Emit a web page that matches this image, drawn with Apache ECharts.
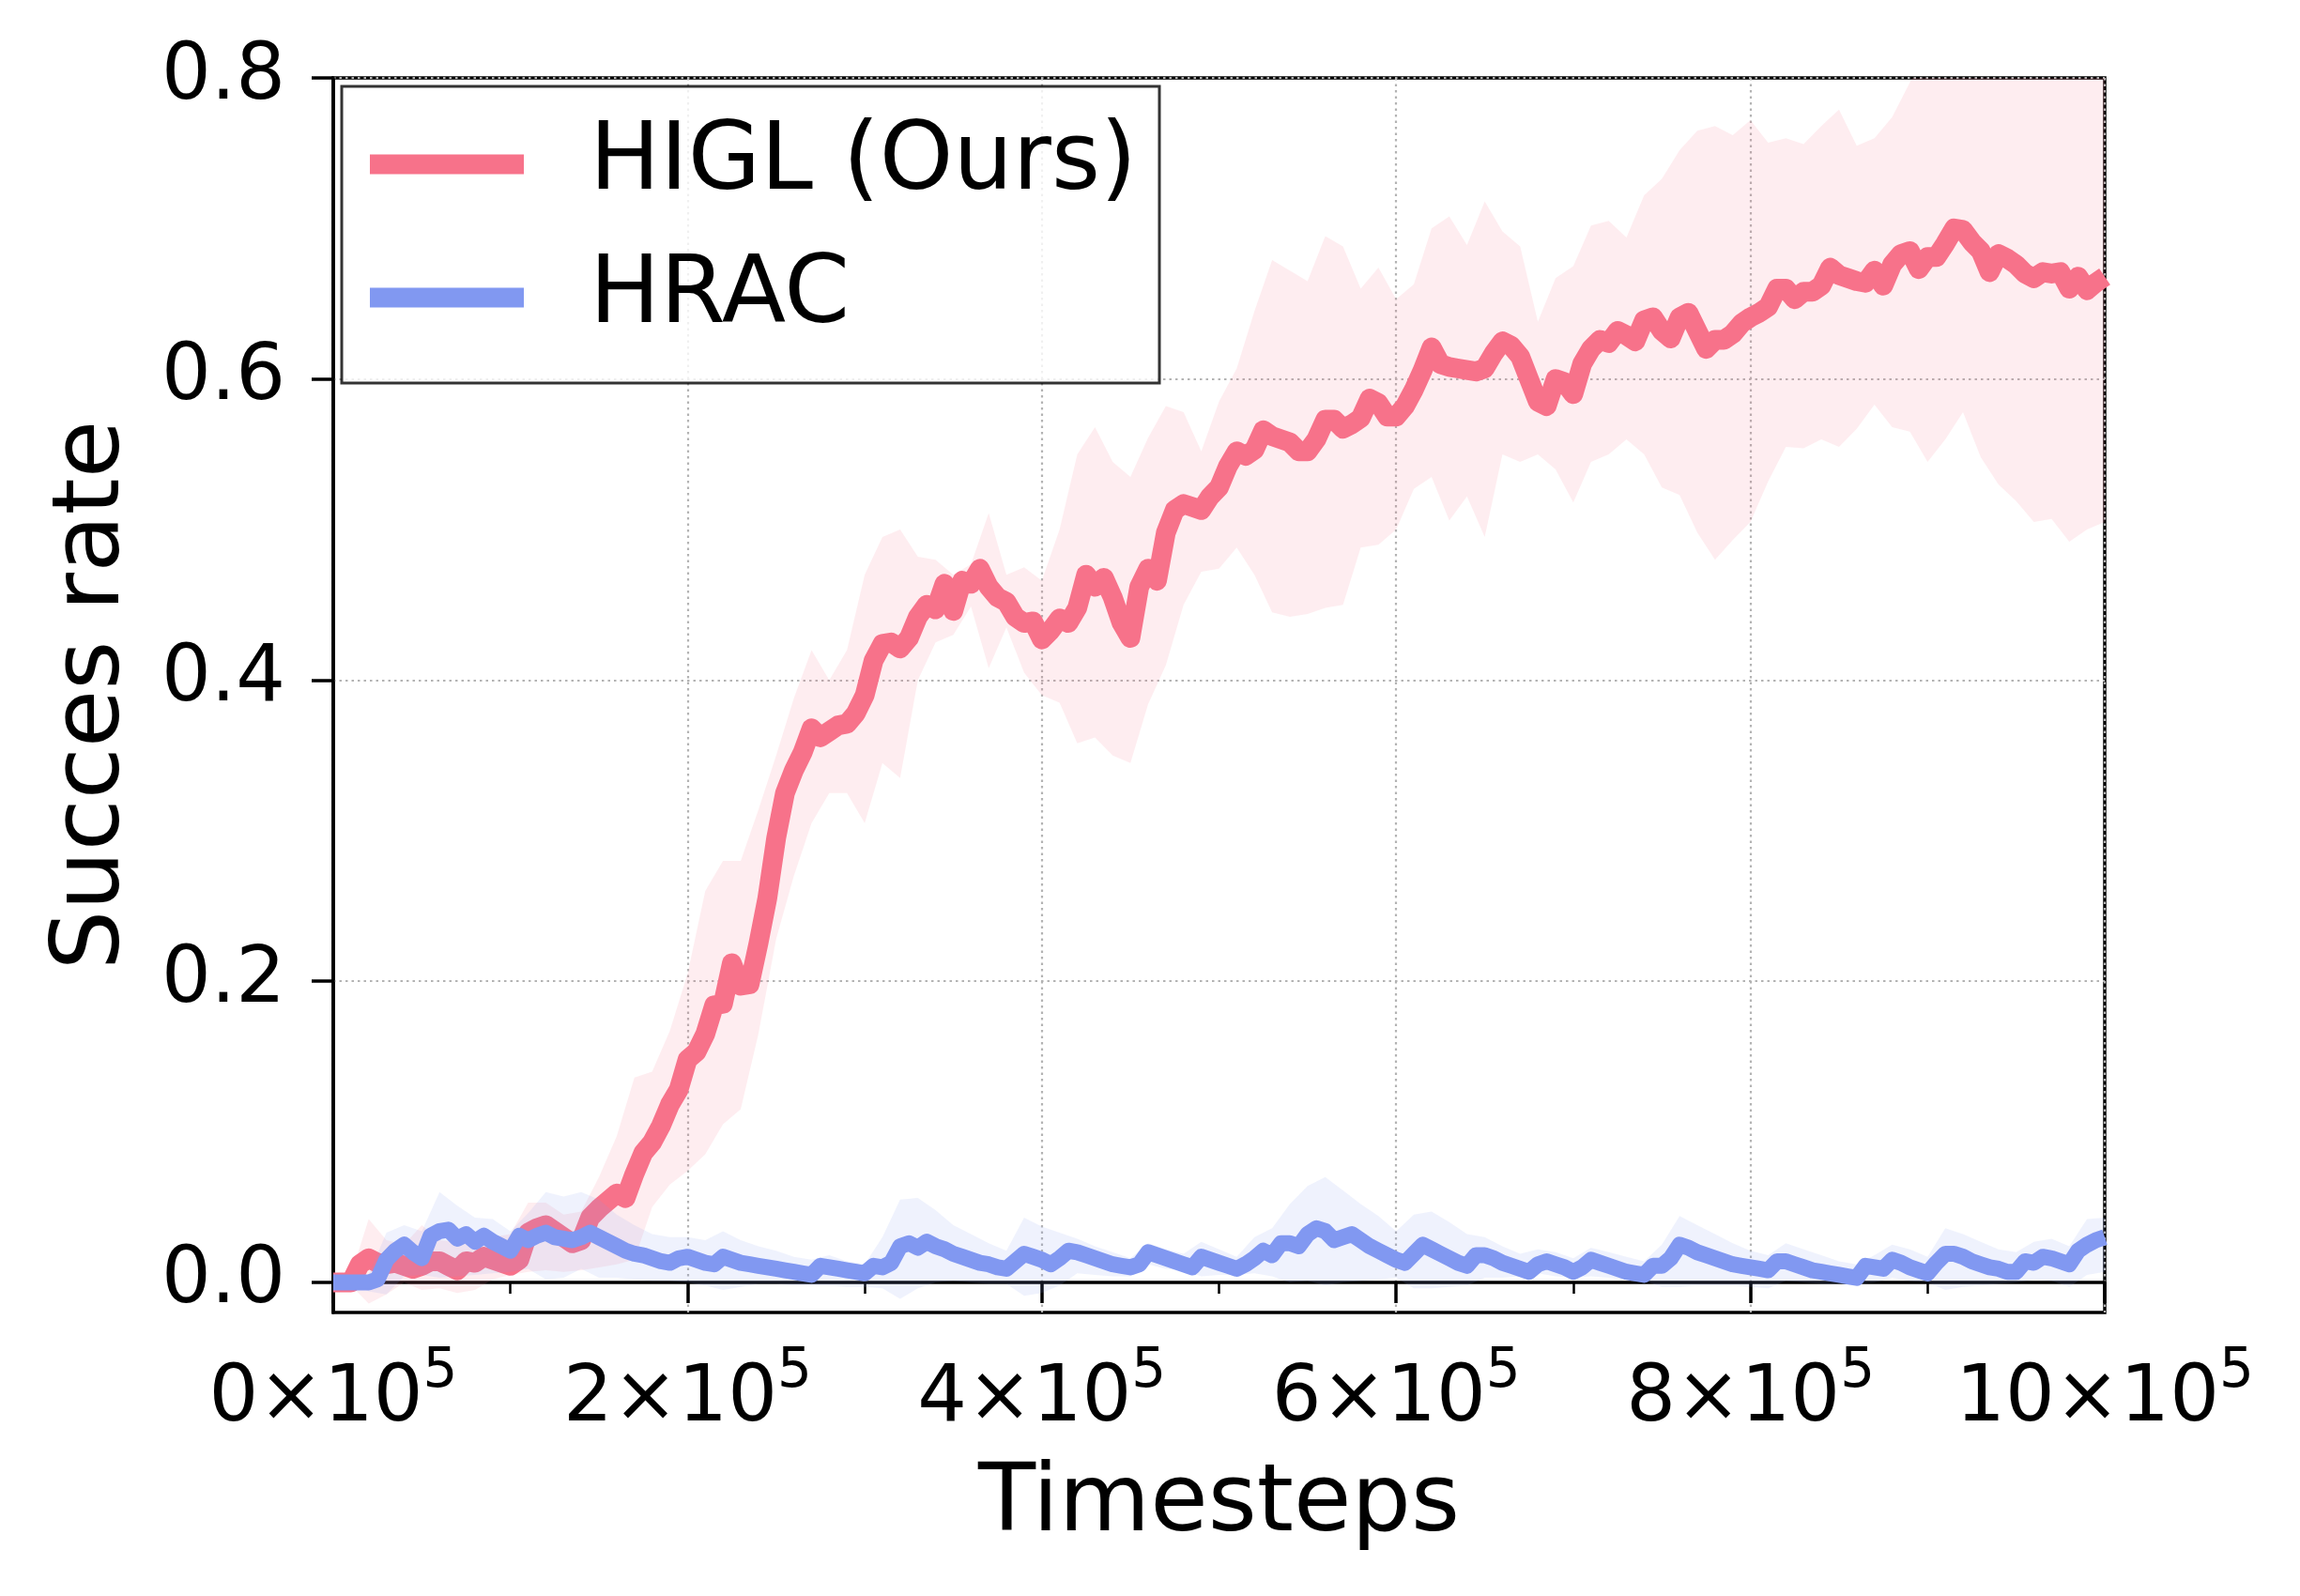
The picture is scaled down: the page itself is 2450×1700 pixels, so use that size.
<!DOCTYPE html>
<html><head><meta charset="utf-8">
<script src="https://cdn.jsdelivr.net/npm/echarts@6/dist/echarts.min.js"></script>
<style>html,body{margin:0;padding:0;background:#fff}#c{width:2450px;height:1700px}</style>
</head><body><div id="c"></div>
<script>
// x grid for mean curves (every 5k steps) and for the shaded bands (every 10k steps)
const meanSteps = Array.from({length: 201}, (_, i) => i * 5000);
const bandSteps = Array.from({length: 101}, (_, i) => i * 10000);

const xTickValues = [0, 200000, 400000, 600000, 800000, 1000000];
const yTickValues = [0, 0.2, 0.4, 0.6, 0.8];
const seriesNames = ['HIGL (Ours)', 'HRAC'];

const higlMean = [
  0,0,0,0.012,0.016,0.013,0.012,0.013,0.011,0.009, 0.011,0.014,0.014,0.011,0.008,0.014,0.013,0.017,0.015,0.013,
  0.011,0.015,0.033,0.036,0.038,0.034,0.030,0.026,0.028,0.043, 0.049,0.054,0.059,0.056,0.072,0.086,0.093,0.104,0.118,0.128,
  0.148,0.153,0.165,0.184,0.185,0.212,0.197,0.198,0.225,0.255, 0.295,0.325,0.340,0.352,0.368,0.362,0.366,0.370,0.371,0.378,
  0.390,0.413,0.424,0.425,0.421,0.428,0.442,0.450,0.447,0.464, 0.446,0.466,0.464,0.474,0.462,0.455,0.452,0.442,0.438,0.439,
  0.427,0.433,0.441,0.438,0.448,0.470,0.462,0.468,0.455,0.438, 0.428,0.462,0.474,0.466,0.498,0.513,0.517,0.515,0.513,0.522,
  0.528,0.542,0.552,0.549,0.553,0.566,0.562,0.560,0.558,0.552, 0.552,0.560,0.573,0.573,0.567,0.570,0.574,0.587,0.584,0.575,
  0.575,0.582,0.593,0.606,0.621,0.610,0.608,0.607,0.606,0.605, 0.607,0.617,0.625,0.622,0.615,0.600,0.585,0.582,0.600,0.598,
  0.590,0.610,0.620,0.626,0.624,0.632,0.629,0.625,0.639,0.641, 0.632,0.627,0.641,0.644,0.632,0.620,0.626,0.626,0.630,0.637,
  0.641,0.644,0.648,0.660,0.660,0.653,0.658,0.658,0.662,0.674, 0.669,0.667,0.665,0.664,0.672,0.662,0.676,0.683,0.685,0.673,
  0.681,0.681,0.690,0.700,0.699,0.691,0.685,0.671,0.683,0.680, 0.676,0.670,0.667,0.671,0.670,0.671,0.660,0.668,0.659,0.664,
  0.668
];

const hracMean = [
  0,0,0,0,0,0.002,0.015,0.021,0.025,0.020, 0.016,0.031,0.034,0.035,0.029,0.032,0.027,0.031,0.027,0.024,
  0.021,0.031,0.028,0.031,0.033,0.030,0.029,0.028,0.030,0.033, 0.030,0.027,0.024,0.021,0.019,0.018,0.016,0.014,0.013,0.016,
  0.017,0.015,0.013,0.012,0.017,0.015,0.013,0.012,0.011,0.010, 0.009,0.008,0.007,0.006,0.005,0.011,0.010,0.009,0.008,0.007,
  0.006,0.011,0.010,0.013,0.024,0.026,0.023,0.027,0.024,0.022, 0.019,0.017,0.015,0.013,0.012,0.010,0.009,0.014,0.019,0.017,
  0.015,0.012,0.016,0.021,0.020,0.018,0.016,0.014,0.012,0.011, 0.010,0.012,0.020,0.018,0.016,0.014,0.012,0.010,0.017,0.015,
  0.013,0.011,0.009,0.012,0.016,0.021,0.018,0.026,0.026,0.024, 0.032,0.036,0.034,0.028,0.030,0.032,0.028,0.024,0.021,0.018,
  0.015,0.013,0.019,0.025,0.022,0.019,0.016,0.013,0.011,0.018, 0.018,0.016,0.013,0.011,0.009,0.007,0.012,0.014,0.012,0.010,
  0.007,0.010,0.015,0.013,0.011,0.009,0.007,0.006,0.005,0.011, 0.011,0.016,0.025,0.023,0.020,0.018,0.016,0.014,0.012,0.011,
  0.010,0.009,0.008,0.014,0.014,0.012,0.010,0.008,0.007,0.006, 0.005,0.004,0.003,0.011,0.010,0.009,0.015,0.013,0.010,0.008,
  0.006,0.013,0.019,0.019,0.017,0.014,0.012,0.010,0.009,0.007, 0.007,0.014,0.013,0.017,0.016,0.014,0.012,0.021,0.025,0.028,
  0.030
];

const higlUpper = [
  0.000,0.005,0.042,0.028,0.025,0.038,0.028,0.027,0.030,0.030,
  0.032,0.053,0.053,0.045,0.047,0.070,0.097,0.136,0.140,0.167,
  0.205,0.260,0.280,0.280,0.314,0.350,0.388,0.420,0.400,0.420,
  0.470,0.495,0.500,0.482,0.480,0.470,0.477,0.511,0.470,0.475,
  0.466,0.500,0.550,0.568,0.545,0.535,0.561,0.582,0.578,0.552,
  0.585,0.607,0.645,0.679,0.672,0.665,0.695,0.688,0.660,0.674,
  0.653,0.663,0.700,0.708,0.689,0.718,0.698,0.688,0.638,0.667,
  0.675,0.702,0.705,0.694,0.722,0.733,0.752,0.765,0.768,0.762,
  0.772,0.757,0.760,0.756,0.768,0.779,0.755,0.760,0.774,0.797,
  0.820,0.840,0.860,0.870,0.880,0.880,0.870,0.880,0.860,0.870,0.870
];
const higlLower = [
  0.000,-0.002,-0.014,-0.008,0.000,-0.005,-0.004,-0.007,-0.005,0.002,
  0.005,0.007,0.008,0.007,0.008,0.010,0.012,0.015,0.050,0.065,
  0.074,0.085,0.105,0.115,0.165,0.228,0.270,0.305,0.325,0.325,
  0.305,0.345,0.335,0.400,0.425,0.430,0.449,0.408,0.435,0.405,
  0.390,0.385,0.358,0.362,0.350,0.345,0.384,0.410,0.450,0.472,
  0.474,0.488,0.470,0.445,0.442,0.444,0.448,0.450,0.488,0.490,
  0.500,0.527,0.535,0.506,0.522,0.495,0.550,0.545,0.550,0.540,
  0.518,0.545,0.550,0.560,0.550,0.528,0.523,0.498,0.480,0.493,
  0.505,0.532,0.555,0.554,0.560,0.555,0.567,0.583,0.568,0.565,
  0.545,0.560,0.578,0.548,0.530,0.519,0.505,0.507,0.492,0.500,0.505
];
const hracUpper = [
  0.000,0.000,0.005,0.033,0.038,0.034,0.060,0.051,0.043,0.042,
  0.034,0.046,0.060,0.057,0.060,0.055,0.045,0.038,0.032,0.030,
  0.030,0.028,0.034,0.028,0.024,0.021,0.017,0.015,0.018,0.014,
  0.012,0.030,0.055,0.056,0.048,0.038,0.032,0.026,0.021,0.043,
  0.037,0.033,0.029,0.024,0.020,0.016,0.026,0.022,0.019,0.027,
  0.022,0.017,0.030,0.036,0.052,0.064,0.070,0.061,0.052,0.044,
  0.034,0.045,0.047,0.040,0.032,0.030,0.024,0.019,0.022,0.020,
  0.016,0.023,0.020,0.017,0.014,0.025,0.044,0.038,0.032,0.026,
  0.021,0.018,0.026,0.022,0.018,0.014,0.012,0.018,0.025,0.022,
  0.017,0.036,0.032,0.027,0.022,0.020,0.027,0.029,0.024,0.042,0.043
];
const hracLower = [
  0.000,0.000,-0.006,-0.008,0.004,0.005,0.003,0.004,0.005,0.006,
  0.007,0.009,0.002,0.003,0.009,0.003,0.003,0.002,0.001,0.001,
  0.000,-0.002,-0.005,-0.003,-0.001,-0.001,-0.002,-0.002,-0.002,-0.003,
  -0.003,-0.004,-0.011,-0.004,0.000,0.001,0.000,-0.001,-0.001,-0.009,
  -0.007,-0.002,0.006,0.005,0.004,0.004,0.012,0.009,0.008,0.004,
  0.005,0.005,0.006,0.004,0.000,0.001,-0.002,0.000,0.001,0.002,
  0.003,-0.004,-0.004,-0.003,-0.002,0.003,0.003,0.004,0.006,0.004,
  0.003,0.004,0.003,0.002,0.001,-0.003,-0.003,-0.002,-0.002,-0.002,
  -0.003,-0.004,0.001,0.000,-0.001,-0.001,-0.001,0.000,0.003,0.001,
  0.000,-0.005,-0.003,-0.002,-0.001,0.000,0.002,0.001,-0.003,0.005,0.007
];

const RED = '#f7728a', BLUE = '#8198f1';
const FONT = 'DejaVu Sans';

function band(upper, lower, fill, z) {
  return {
    type: 'custom', coordinateSystem: 'cartesian2d', silent: true, clip: true, z: z,
    data: [[0, 0]],
    renderItem: function (params, api) {
      const pts = [];
      for (let i = 0; i < bandSteps.length; i++) pts.push(api.coord([bandSteps[i], upper[i]]));
      for (let i = bandSteps.length - 1; i >= 0; i--) pts.push(api.coord([bandSteps[i], lower[i]]));
      return { type: 'polygon', shape: { points: pts }, style: { fill: fill } };
    }
  };
}

const gridLine = { show: true, lineStyle: { color: '#b3b3b3', width: 2.2, type: [2.5, 4] } };

const chart = echarts.init(document.getElementById('c'), null, { renderer: 'canvas' });
chart.setOption({
  animation: false,
  backgroundColor: '#fff',
  grid: { left: 355, right: 208, top: 83, bottom: 302, show: true, borderColor: '#000', borderWidth: 3.5, backgroundColor: 'transparent' },
  xAxis: {
    type: 'value', min: 0, max: 1000000, interval: 200000,
    name: 'Timesteps', nameLocation: 'middle', nameGap: 156,
    nameTextStyle: { fontSize: 100, fontFamily: FONT, color: '#000', lineHeight: 100 },
    axisLine: { show: true, lineStyle: { color: '#000', width: 3.5 } },
    axisTick: { show: true, length: 22, lineStyle: { color: '#000', width: 3.5 } },
    minorTick: { show: true, splitNumber: 2, length: 12, lineStyle: { color: '#000', width: 2.5 } },
    splitLine: gridLine,
    axisLabel: {
      margin: 35, hideOverlap: false, showMinLabel: true, showMaxLabel: true,
      formatter: function (v) { return '{b|' + Math.round(v / 100000) + '×10}{s|5}'; },
      rich: {
        b: { fontSize: 83, fontFamily: FONT, color: '#000', lineHeight: 100, verticalAlign: 'bottom' },
        s: { fontSize: 58, fontFamily: FONT, color: '#000', lineHeight: 58, verticalAlign: 'top' }
      }
    }
  },
  yAxis: {
    type: 'value', min: -0.02, max: 0.8,
    name: 'Succes rate', nameLocation: 'middle', nameGap: 205, nameRotate: 90,
    nameTextStyle: { fontSize: 100, fontFamily: FONT, color: '#000', lineHeight: 100 },
    axisLine: { show: true, lineStyle: { color: '#000', width: 3.5 } },
    axisTick: { show: true, length: 23, customValues: yTickValues, lineStyle: { color: '#000', width: 3.5 } },
    splitLine: gridLine,
    axisLabel: {
      margin: 51, fontSize: 83, fontFamily: FONT, color: '#000', customValues: yTickValues,
      formatter: function (v) { return v.toFixed(1); }
    }
  },
  legend: {
    orient: 'vertical', left: 364, top: 92, padding: [22, 24, 30, 30],
    itemWidth: 164, itemHeight: 21, itemGap: 20, icon: 'rect',
    backgroundColor: 'rgba(255,255,255,0.8)', borderColor: 'rgba(0,0,0,0.8)', borderWidth: 3, borderRadius: 0,
    textStyle: { fontSize: 100, lineHeight: 100, fontFamily: FONT, color: '#000', padding: [22, 0, 0, 65] },
    data: seriesNames, selectedMode: false
  },
  series: [
    band(higlUpper, higlLower, 'rgba(247,114,138,0.13)', 1),
    {
      name: seriesNames[0], type: 'line', z: 2, showSymbol: false, silent: true, clip: true,
      data: meanSteps.map((s, i) => [s, higlMean[i]]),
      itemStyle: { color: RED },
      lineStyle: { color: RED, width: 21, join: 'round', cap: 'butt' }
    },
    band(hracUpper, hracLower, 'rgba(129,152,241,0.13)', 3),
    {
      name: seriesNames[1], type: 'line', z: 4, showSymbol: false, silent: true, clip: true,
      data: meanSteps.map((s, i) => [s, hracMean[i]]),
      itemStyle: { color: BLUE },
      lineStyle: { color: BLUE, width: 17, join: 'round', cap: 'butt' }
    }
  ]
});
</script></body></html>
